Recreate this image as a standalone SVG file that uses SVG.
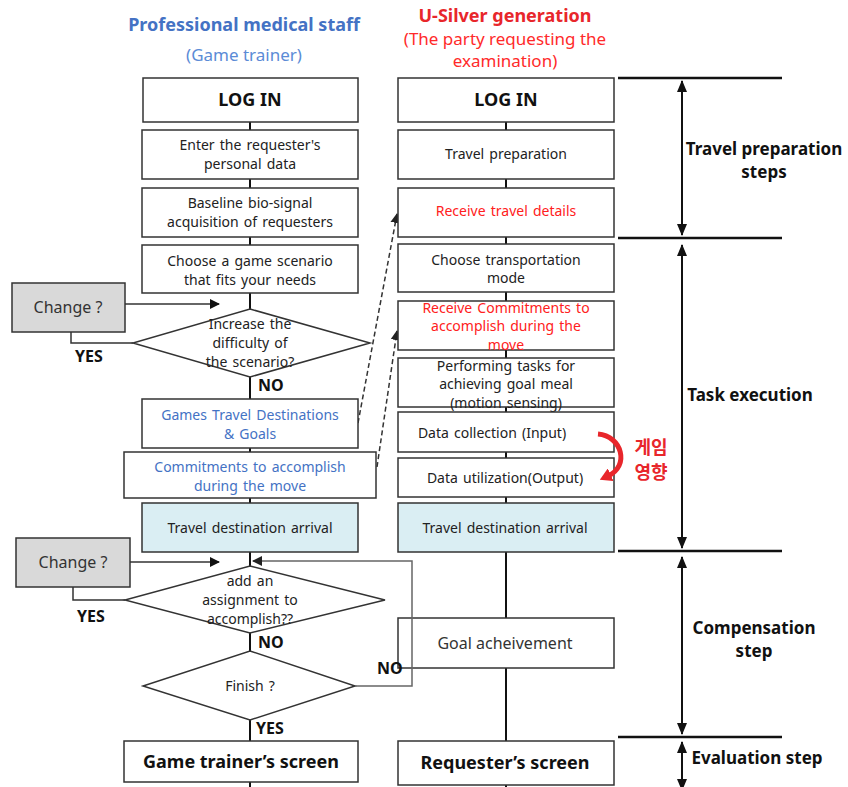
<svg xmlns="http://www.w3.org/2000/svg" width="848" height="787" viewBox="0 0 848 787">
<style>
text{font-family:"Noto Sans","Noto Sans CJK KR",sans-serif;}
.box{fill:#fff;stroke:#333;stroke-width:1.5;}
.blue{fill:#daeef3;stroke:#333;stroke-width:1.5;}
.gray{fill:#d9d9d9;stroke:#333;stroke-width:1.5;}
.dia{fill:#fff;stroke:#333;stroke-width:1.5;}
.t{font-size:14px;fill:#222;text-anchor:middle;word-spacing:1.5px;}
.tb{font-size:14px;fill:#4472c4;text-anchor:middle;word-spacing:1.5px;}
.tr{font-size:14px;fill:#ff2020;text-anchor:middle;word-spacing:1.5px;}
.big{font-size:18px;font-weight:bold;fill:#111;text-anchor:middle;}
.lab{font-size:16px;font-weight:bold;fill:#111;}
.side{font-size:17px;font-weight:bold;fill:#111;text-anchor:middle;}
.chg{font-size:16px;fill:#333;text-anchor:middle;}
.kr{font-family:"Noto Sans CJK KR",sans-serif;font-size:18px;font-weight:bold;fill:#e8262b;text-anchor:middle;}
.flow{stroke:#111;stroke-width:2;fill:none;}
.thin{stroke:#333;stroke-width:1.5;fill:none;}
.fb{stroke:#666;stroke-width:1.5;fill:none;}
.dash{stroke:#333;stroke-width:1.5;fill:none;stroke-dasharray:5 3;}
.hl{stroke:#111;stroke-width:2.5;}
.dbl{stroke:#111;stroke-width:2;}
</style>
<defs>
<marker id="ah" markerWidth="10" markerHeight="10" refX="9" refY="5" orient="auto" markerUnits="userSpaceOnUse"><path d="M0,0 L10,5 L0,10 z" fill="#111"/></marker>
<marker id="ahg" markerWidth="10" markerHeight="10" refX="9" refY="5" orient="auto" markerUnits="userSpaceOnUse"><path d="M0,0 L10,5 L0,10 z" fill="#222"/></marker>
<marker id="dbl" markerWidth="12" markerHeight="10" refX="11" refY="5" orient="auto-start-reverse" markerUnits="userSpaceOnUse"><path d="M0,0 L12,5 L0,10 z" fill="#111"/></marker>
<marker id="red" markerWidth="14" markerHeight="14" refX="3" refY="7" orient="auto" markerUnits="userSpaceOnUse"><path d="M0,0 L12,7 L0,14 z" fill="#e8262b"/></marker>
</defs>

<!-- headers -->
<g id="headers">
<text x="244" y="31" style="font-size:18px;font-weight:bold;fill:#4472c4;text-anchor:middle">Professional medical staff</text>
<text x="244" y="61" style="font-size:17px;fill:#5b8bd6;text-anchor:middle">(Game trainer)</text>
<text x="505" y="22" style="font-size:18px;font-weight:bold;fill:#e8262b;text-anchor:middle">U-Silver generation</text>
<text x="505" y="45" style="font-size:17px;fill:#ff2a2a;text-anchor:middle">(The party requesting the</text>
<text x="505" y="67" style="font-size:17px;fill:#ff2a2a;text-anchor:middle">examination)</text>
</g>

<!-- connectors (behind nodes) -->
<g id="connectors">
<line class="flow" x1="250" y1="122" x2="250" y2="787"/>
<line class="flow" x1="506" y1="122" x2="506" y2="787"/>
<line class="thin" x1="125" y1="304" x2="219" y2="304" marker-end="url(#ah)"/>
<polyline class="thin" points="71,332 71,343 133,343"/>
<line class="thin" x1="130" y1="562" x2="219" y2="562" marker-end="url(#ah)"/>
<polyline class="thin" points="73,587 73,600 125,600"/>
<line class="dash" x1="358" y1="423" x2="397" y2="214" marker-end="url(#ahg)"/>
<line class="dash" x1="377" y1="467" x2="397" y2="331" marker-end="url(#ahg)"/>
</g>

<!-- left column -->
<g id="l-login"><rect class="box" x="143" y="78" width="215" height="44"/><text class="big" x="250" y="106">LOG IN</text></g>
<g id="l-enter"><rect class="box" x="142" y="130" width="216" height="49"/><text class="t" x="250" y="150">Enter the requester's</text><text class="t" x="250" y="169">personal data</text></g>
<g id="l-baseline"><rect class="box" x="142" y="188" width="216" height="49"/><text class="t" x="250" y="208">Baseline bio-signal</text><text class="t" x="250" y="227">acquisition of requesters</text></g>
<g id="l-choose"><rect class="box" x="142" y="245" width="216" height="48"/><text class="t" x="250" y="266">Choose a game scenario</text><text class="t" x="250" y="285">that fits your needs</text></g>
<g id="l-change1"><rect class="gray" x="12" y="283" width="113" height="49"/><text class="chg" x="68" y="313">Change ?</text></g>
<g id="l-increase"><polygon class="dia" points="250,309 370,343 250,377 133,343"/><text class="t" x="250" y="329">Increase the</text><text class="t" x="250" y="348">difficulty of</text><text class="t" x="250" y="367">the scenario?</text></g>
<g id="l-games"><rect class="box" x="142" y="399" width="216" height="49"/><text class="tb" x="250" y="420">Games Travel Destinations</text><text class="tb" x="250" y="439">&amp; Goals</text></g>
<g id="l-commit"><rect class="box" x="124" y="452" width="252" height="46"/><text class="tb" x="250" y="472">Commitments to accomplish</text><text class="tb" x="250" y="491">during the move</text></g>
<g id="l-arrival"><rect class="blue" x="142" y="503" width="216" height="49"/><text class="t" x="250" y="533">Travel destination arrival</text></g>
<g id="l-change2"><rect class="gray" x="16" y="538" width="114" height="49"/><text class="chg" x="73" y="568">Change ?</text></g>
<g id="l-add"><polygon class="dia" points="250,566 385,600 250,633 125,600"/><text class="t" x="250" y="586">add an</text><text class="t" x="250" y="605">assignment to</text><text class="t" x="250" y="624">accomplish??</text></g>
<g id="l-finish"><polygon class="dia" points="250,651 355,686 250,720 143,686"/><text class="t" x="250" y="691">Finish ?</text></g>
<g id="l-screen"><rect class="box" x="124" y="741" width="234" height="41"/><text class="big" x="241" y="768">Game trainer’s screen</text></g>

<!-- right column -->
<g id="r-login"><rect class="box" x="398" y="78" width="216" height="44"/><text class="big" x="506" y="106">LOG IN</text></g>
<g id="r-prep"><rect class="box" x="398" y="130" width="216" height="49"/><text class="t" x="506" y="159">Travel preparation</text></g>
<g id="r-receive"><rect class="box" x="398" y="188" width="216" height="49"/><text class="tr" x="506" y="216">Receive travel details</text></g>
<g id="r-transport"><rect class="box" x="398" y="244" width="216" height="48"/><text class="t" x="506" y="265">Choose transportation</text><text class="t" x="506" y="283">mode</text></g>
<g id="r-commit"><rect class="box" x="398" y="301" width="216" height="49"/><text class="tr" x="506" y="313">Receive Commitments to</text><text class="tr" x="506" y="331">accomplish during the</text><text class="tr" x="506" y="350">move</text></g>
<g id="r-perform"><rect class="box" x="398" y="358" width="216" height="49"/><text class="t" x="506" y="371">Performing tasks for</text><text class="t" x="506" y="389">achieving goal meal</text><text class="t" x="506" y="408">(motion sensing)</text></g>
<g id="r-collect"><rect class="box" x="398" y="412" width="216" height="40"/><text class="t" x="492" y="438">Data collection (Input)</text></g>
<g id="r-util"><rect class="box" x="398" y="458" width="216" height="39"/><text class="t" x="505" y="483">Data utilization(Output)</text></g>
<g id="r-arrival"><rect class="blue" x="398" y="503" width="216" height="49"/><text class="t" x="505" y="533">Travel destination arrival</text></g>
<g id="r-goal"><rect class="box" x="398" y="618" width="216" height="50"/><text x="505" y="649" style="font-size:16px;fill:#333;text-anchor:middle">Goal acheivement</text></g>
<g id="r-screen"><rect class="box" x="398" y="741" width="216" height="44"/><text class="big" x="505" y="769">Requester’s screen</text></g>
<g id="r-game"><text class="kr" x="651" y="454">게임</text><text class="kr" x="651" y="479">영향</text></g>

<!-- connectors drawn over nodes -->
<g id="connectors-top">
<polyline class="fb" points="355,686 412,686 412,561 253,561" marker-end="url(#ahg)"/>
<path d="M598,434 C622,436 630,466 608,476" stroke="#e8262b" stroke-width="5" fill="none" marker-end="url(#red)"/>
</g>

<!-- labels -->
<g id="labels">
<text class="lab" x="75" y="362">YES</text>
<text class="lab" x="258" y="391">NO</text>
<text class="lab" x="77" y="622">YES</text>
<text class="lab" x="258" y="648">NO</text>
<text class="lab" x="256" y="734">YES</text>
<text class="lab" x="377" y="674">NO</text>
</g>

<!-- stage markers -->
<g id="stages">
<line class="hl" x1="618" y1="78" x2="782" y2="78"/>
<line class="hl" x1="618" y1="238" x2="782" y2="238"/>
<line class="hl" x1="618" y1="551" x2="782" y2="551"/>
<line class="hl" x1="618" y1="737" x2="782" y2="737"/>
<line class="dbl" x1="682" y1="81" x2="682" y2="235" marker-start="url(#dbl)" marker-end="url(#dbl)"/>
<line class="dbl" x1="682" y1="245" x2="682" y2="548" marker-start="url(#dbl)" marker-end="url(#dbl)"/>
<line class="dbl" x1="682" y1="557" x2="682" y2="734" marker-start="url(#dbl)" marker-end="url(#dbl)"/>
<line class="dbl" x1="682" y1="742" x2="682" y2="790" marker-start="url(#dbl)" marker-end="url(#dbl)"/>
<text class="side" x="764" y="155">Travel preparation</text>
<text class="side" x="764" y="178">steps</text>
<text class="side" x="750" y="401">Task execution</text>
<text class="side" x="754" y="634">Compensation</text>
<text class="side" x="754" y="657">step</text>
<text class="side" x="757" y="764">Evaluation step</text>
</g>
</svg>
